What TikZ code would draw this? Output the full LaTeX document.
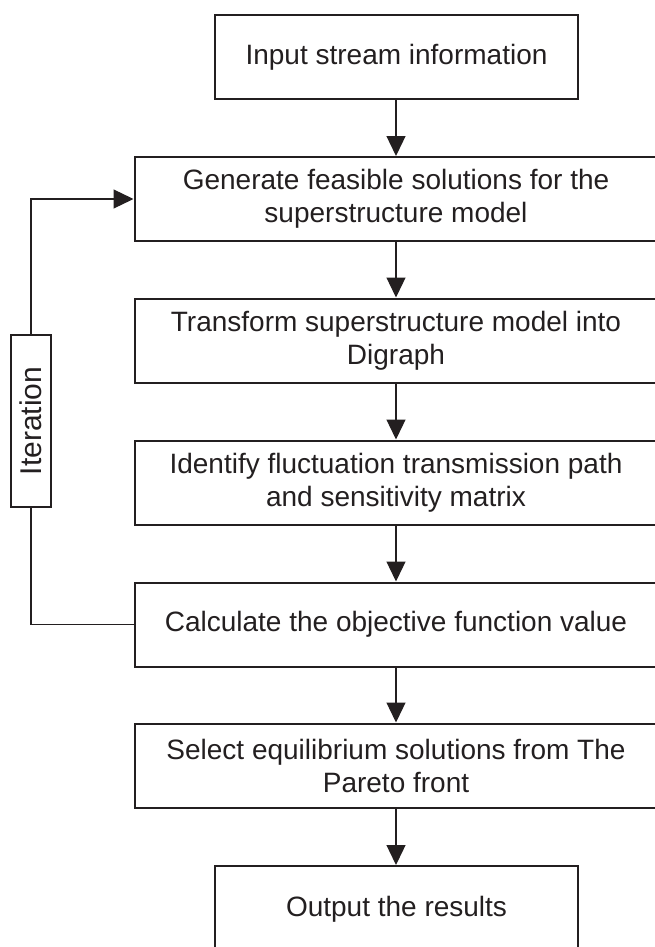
\documentclass[tikz,border=0pt]{standalone}
\usepackage{fontspec}
\setmainfont{Liberation Sans}
\usetikzlibrary{arrows.meta}
\definecolor{ink}{HTML}{231F20}
\begin{document}
\begin{tikzpicture}[x=1pt,y=-1pt,
  font=\fontsize{28}{33}\selectfont,
  every node/.style={text=ink, align=center, inner sep=0pt},
  stepbox/.style={draw=ink, line width=2pt, minimum height=84pt},
  narrowbox/.style={stepbox, minimum width=363pt},
  widebox/.style={stepbox, minimum width=523pt},
  flow/.style={draw=ink, line width=1.3pt, -{Triangle[length=20pt,width=19pt]}},
  link/.style={draw=ink, line width=1.3pt}]
\useasboundingbox (0,0) rectangle (655,947);
\clip (0,0) rectangle (655,947);

% process steps
\node[narrowbox] (b1) at (396.5,57)  {Input stream information};
\node[widebox]   (b2) at (396,199)   {Generate feasible solutions for the\\superstructure model};
\node[widebox]   (b3) at (396,340.5) {Transform superstructure model into\\Digraph};
\node[widebox]   (b4) at (396,482.5) {Identify fluctuation transmission path\\and sensitivity matrix};
\node[widebox]   (b5) at (396,624.5) {Calculate the objective function value};
\node[widebox]   (b6) at (396,765.5) {Select equilibrium solutions from The\\Pareto front};
\node[narrowbox, minimum height=86pt] (b7) at (396.5,909) {Output the results};

% iteration label on the feedback loop
\node[draw=ink, line width=1.6pt, minimum width=40pt, minimum height=172pt,
      font=\fontsize{30}{34}\selectfont] (it) at (31,421)
  {\rotatebox{90}{Iteration}};

% main flow
\draw[flow] (b1.south -| 396,0) -- (b2.north -| 396,0);
\draw[flow] (b2) -- (b3);
\draw[flow] (b3) -- (b4);
\draw[flow] (b4) -- (b5);
\draw[flow] (b5) -- (b6);
\draw[flow] (b6.south) -- (b7.north -| b6.south);

% feedback loop
\draw[link] (b5.west) -| (it.south);
\draw[flow] (it.north) |- (b2.west);
\end{tikzpicture}
\end{document}
